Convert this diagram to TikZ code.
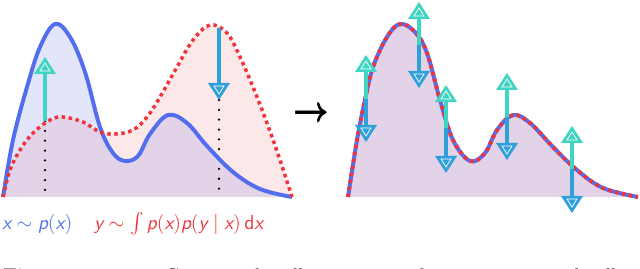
\documentclass[tikz,border=0pt]{standalone}
\usepackage{amsmath}
\usetikzlibrary{calc}
\definecolor{cblue}{RGB}{82,110,238}
\definecolor{cred}{RGB}{240,52,60}
\definecolor{fblue}{RGB}{227,229,250}
\definecolor{fred}{RGB}{253,232,233}
\definecolor{fpurple}{RGB}{226,211,232}
\definecolor{ateal}{RGB}{64,212,194}
\definecolor{ablue}{RGB}{48,160,218}
\newcommand{\sv}[1]{\text{\sffamily\slshape #1}}
\newcommand{\uphead}[2]{%
  \fill[#2] (#1) -- ++(-11,17) -- ++(22,0) -- cycle;
  \draw[white, line width=0.5pt] ($(#1)+(0,6)$) -- ++(-5,8) -- ++(10,0) -- cycle;}
\newcommand{\downhead}[2]{%
  \fill[#2] (#1) -- ++(-11,-17) -- ++(22,0) -- cycle;
  \draw[white, line width=0.5pt] ($(#1)+(0,-6)$) -- ++(-5,-8) -- ++(10,0) -- cycle;}
\newcommand{\fatarrow}{\rlap{\raisebox{0.75pt}{$\rightarrow$}}\rlap{\raisebox{-0.75pt}{$\rightarrow$}}\rlap{\hspace{0.5pt}$\rightarrow$}$\rightarrow$}
\tikzset{
  bluecurve/.style={draw=cblue, line width=2.8pt, line join=round},
  reddotted/.style={draw=cred, line width=2.5pt, dash pattern=on 2.5pt off 2.5pt},
  reddashed/.style={draw=cred, line width=2.8pt, dash pattern=on 2.5pt off 2.5pt},
  tealshaft/.style={draw=ateal, line width=2.8pt, shorten >=9pt},
  blueshaft/.style={draw=ablue, line width=2.8pt, shorten >=9pt},
  blackdots/.style={draw=black, line width=1.8pt, line cap=round, dash pattern=on 0pt off 7pt},
  lbl/.style={anchor=west, inner sep=0pt, font=\fontsize{14}{15}\selectfont}
}
\begin{document}
\begin{tikzpicture}[x=0.025cm, y=-0.025cm]
\useasboundingbox (0,0) rectangle (640,269);
\clip (0,0) rectangle (640,269);
\fill[fblue] plot[smooth, tension=0.6] coordinates {(3,197) (13,140) (27,87) (40,47) (55,24) (70,37) (85,72) (100,127) (113,153) (125,161) (138,156) (150,134) (168,115) (187,123) (207,146) (233,172) (260,189) (292,197)} -- cycle;
\fill[fred] plot[smooth, tension=0.6] coordinates {(3,197) (10,170) (20,150) (33,133) (50,120) (63,117) (83,122) (100,132) (115,134) (133,130) (147,117) (160,97) (177,67) (193,40) (210,25) (227,33) (240,57) (253,87) (267,123) (280,160) (292,197)} -- cycle;
\begin{scope}
\clip plot[smooth, tension=0.6] coordinates {(3,197) (13,140) (27,87) (40,47) (55,24) (70,37) (85,72) (100,127) (113,153) (125,161) (138,156) (150,134) (168,115) (187,123) (207,146) (233,172) (260,189) (292,197)} -- cycle;
\fill[fpurple] plot[smooth, tension=0.6] coordinates {(3,197) (10,170) (20,150) (33,133) (50,120) (63,117) (83,122) (100,132) (115,134) (133,130) (147,117) (160,97) (177,67) (193,40) (210,25) (227,33) (240,57) (253,87) (267,123) (280,160) (292,197)} -- cycle;
\end{scope}
\coordinate (lb) at (45,121);
\coordinate (lt) at (45,57);
\coordinate (lg) at (45,197);
\coordinate (rb) at (219,28);
\coordinate (rt) at (219,100);
\coordinate (rg) at (219,197);
\draw[blackdots] (lb) -- (lg);
\draw[blackdots] (rt) -- (rg);
\draw[bluecurve] plot[smooth, tension=0.6] coordinates {(3,197) (13,140) (27,87) (40,47) (55,24) (70,37) (85,72) (100,127) (113,153) (125,161) (138,156) (150,134) (168,115) (187,123) (207,146) (233,172) (260,189) (292,197)};
\draw[reddotted] plot[smooth, tension=0.6] coordinates {(3,197) (10,170) (20,150) (33,133) (50,120) (63,117) (83,122) (100,132) (115,134) (133,130) (147,117) (160,97) (177,67) (193,40) (210,25) (227,33) (240,57) (253,87) (267,123) (280,160) (292,197)};
\draw[tealshaft] (lb) -- (lt);
\uphead{lt}{ateal}
\draw[blueshaft] (rb) -- (rt);
\downhead{rt}{ablue}
\node[lbl, text=cblue] (lx) at (2,224) {$\sv{x} \sim \sv{p}(\sv{x})$};
\node[lbl, text=cred] (ly) at (94,224) {$\sv{y} \sim \int \sv{p}(\sv{x})\sv{p}(\sv{y} \mid \sv{x})\,\mathsf{d}\sv{x}$};
\node[inner sep=0pt, font=\fontsize{27}{27}\selectfont] (arr) at (311,115) {\fatarrow};
\fill[fpurple] plot[smooth, tension=0.6] coordinates {(348,197) (357,140) (365,100) (373,67) (387,37) (400,24) (415,32) (427,53) (440,100) (453,140) (470,161) (485,153) (497,130) (513,115) (530,123) (553,147) (577,170) (603,188) (638,197)} -- cycle;
\draw[bluecurve] plot[smooth, tension=0.6] coordinates {(348,197) (357,140) (365,100) (373,67) (387,37) (400,24) (415,32) (427,53) (440,100) (453,140) (470,161) (485,153) (497,130) (513,115) (530,123) (553,147) (577,170) (603,188) (638,197)};
\draw[reddashed] plot[smooth, tension=0.6] coordinates {(348,197) (357,140) (365,100) (373,67) (387,37) (400,24) (415,32) (427,53) (440,100) (453,140) (470,161) (485,153) (497,130) (513,115) (530,123) (553,147) (577,170) (603,188) (638,197)};
\foreach \i/\x/\b/\u/\d in {1/366/99/55/142, 2/419/45/2/88, 3/446/128/85/173, 4/507/117/73/160, 5/572/169/126/213}{
  \coordinate (b\i) at (\x,\b);
  \coordinate (u\i) at (\x,\u);
  \coordinate (d\i) at (\x,\d);
  \draw[tealshaft] (b\i) -- (u\i);
  \draw[blueshaft] (b\i) -- (d\i);
  \uphead{u\i}{ateal}
  \downhead{d\i}{ablue}
}
\node[anchor=base west, inner sep=0pt, font=\fontsize{14}{14}\selectfont] (cap) at (3,282)
  {\makebox[16.4cm][s]{\textbf{Figure 2:} Conceptual illustration of contrastive distillation}};
\end{tikzpicture}
\end{document}
